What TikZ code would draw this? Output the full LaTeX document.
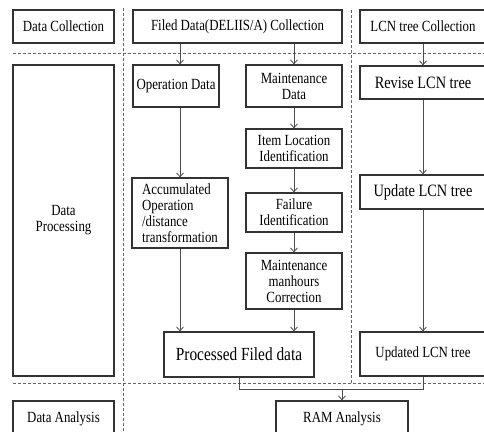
\documentclass[tikz,border=0pt]{standalone}
\usepackage{fontspec}
\setmainfont{Liberation Serif}[FakeStretch=0.83]
\usetikzlibrary{arrows.meta}
\tikzset{
  box/.style={draw=black!80, line width=1.2pt, align=center, inner sep=2pt,
              font=\fontsize{15.5}{16}\selectfont},
  bigtext/.style={font=\fontsize{17.3}{18}\selectfont},
  arr/.style={draw=black!70, line width=0.8pt, -{Straight Barb[length=4pt,width=7pt]}},
  conn/.style={draw=black!70, line width=0.8pt},
  sep/.style={draw=black!60, line width=0.8pt, dash pattern=on 3pt off 2pt}
}
\begin{document}
\begin{tikzpicture}[x=1pt, y=-1pt]
        \clip (0,0) rectangle (484,431);
        % separators
        \foreach \y in {53, 383} {
            \draw[sep] (13,\y) -- (484,\y);
        }
        \draw[sep] (123,8) -- (123,431);
        \draw[sep] (351,10) -- (351,383);
        % first row
        \node[box, minimum width=101pt, minimum height=33pt] (dcol) at (63.5,26.5) {Data Collection};
        \node[box, minimum width=209pt, minimum height=33pt] (fcol) at (237.5,26.5) {Filed Data(DELIIS/A) Collection};
        \node[box, minimum width=126pt, minimum height=33pt] (lcol) at (423,26.5) {LCN tree Collection};
        % processing
        \node[box, minimum width=101pt, minimum height=311pt] (dproc) at (63.5,220.5) {Data\\Processing};
        \node[box, minimum width=86pt, minimum height=42pt] (opd) at (176,86) {Operation Data};
        \node[box, minimum width=96pt, minimum height=70pt, align=left] (acc) at (180,213)
            {Accumulated\\Operation\\/distance\\transformation};
        \node[box, minimum width=96pt, minimum height=42pt] (mnt) at (294,86) {Maintenance\\Data};
        \node[box, minimum width=96pt, minimum height=39pt] (iloc) at (294,148.5) {Item Location\\Identification};
        \node[box, minimum width=96pt, minimum height=39pt] (fail) at (294,212.5) {Failure\\Identification};
        \node[box, minimum width=96pt, minimum height=56pt] (mhc) at (294,281) {Maintenance\\manhours\\Correction};
        \node[box, bigtext, font=\fontsize{18.5}{19}\selectfont, minimum width=150pt, minimum height=45pt] (pfd) at (239,354.5) {Processed Filed data};
        \node[box, bigtext, minimum width=126pt, minimum height=33pt] (rev) at (423,82.5) {Revise LCN tree};
        \node[box, bigtext, minimum width=126pt, minimum height=34pt] (upd) at (423,192) {Update LCN tree};
        \node[box, minimum width=126pt, minimum height=44pt] (udt) at (423,354) {Updated LCN tree};
        % analysis
        \node[box, minimum width=101pt, minimum height=36pt] (dana) at (63.5,419) {Data Analysis};
        \node[box, minimum width=132pt, minimum height=36pt] (ram) at (342,419) {RAM Analysis};
        % arrows
        \draw[arr] (fcol.south -| acc) -- (opd.north -| acc);
        \draw[arr] (opd.south -| acc) -- (acc.north);
        \draw[arr] (acc.south) -- (pfd.north -| acc);
        \draw[arr] (fcol.south -| mnt) -- (mnt.north);
        \draw[arr] (mnt) -- (iloc);
        \draw[arr] (iloc) -- (fail);
        \draw[arr] (fail) -- (mhc);
        \draw[arr] (mhc.south) -- (pfd.north -| mhc);
        \draw[arr] (lcol) -- (rev);
        \draw[arr] (rev) -- (upd);
        \draw[arr] (upd) -- (udt);
        \coordinate (join) at (342,389);
        \draw[conn] (pfd.south) |- (join);
        \draw[conn] (udt.south) |- (join);
        \draw[arr] (join) -- (ram.north);
\end{tikzpicture}
\end{document}
